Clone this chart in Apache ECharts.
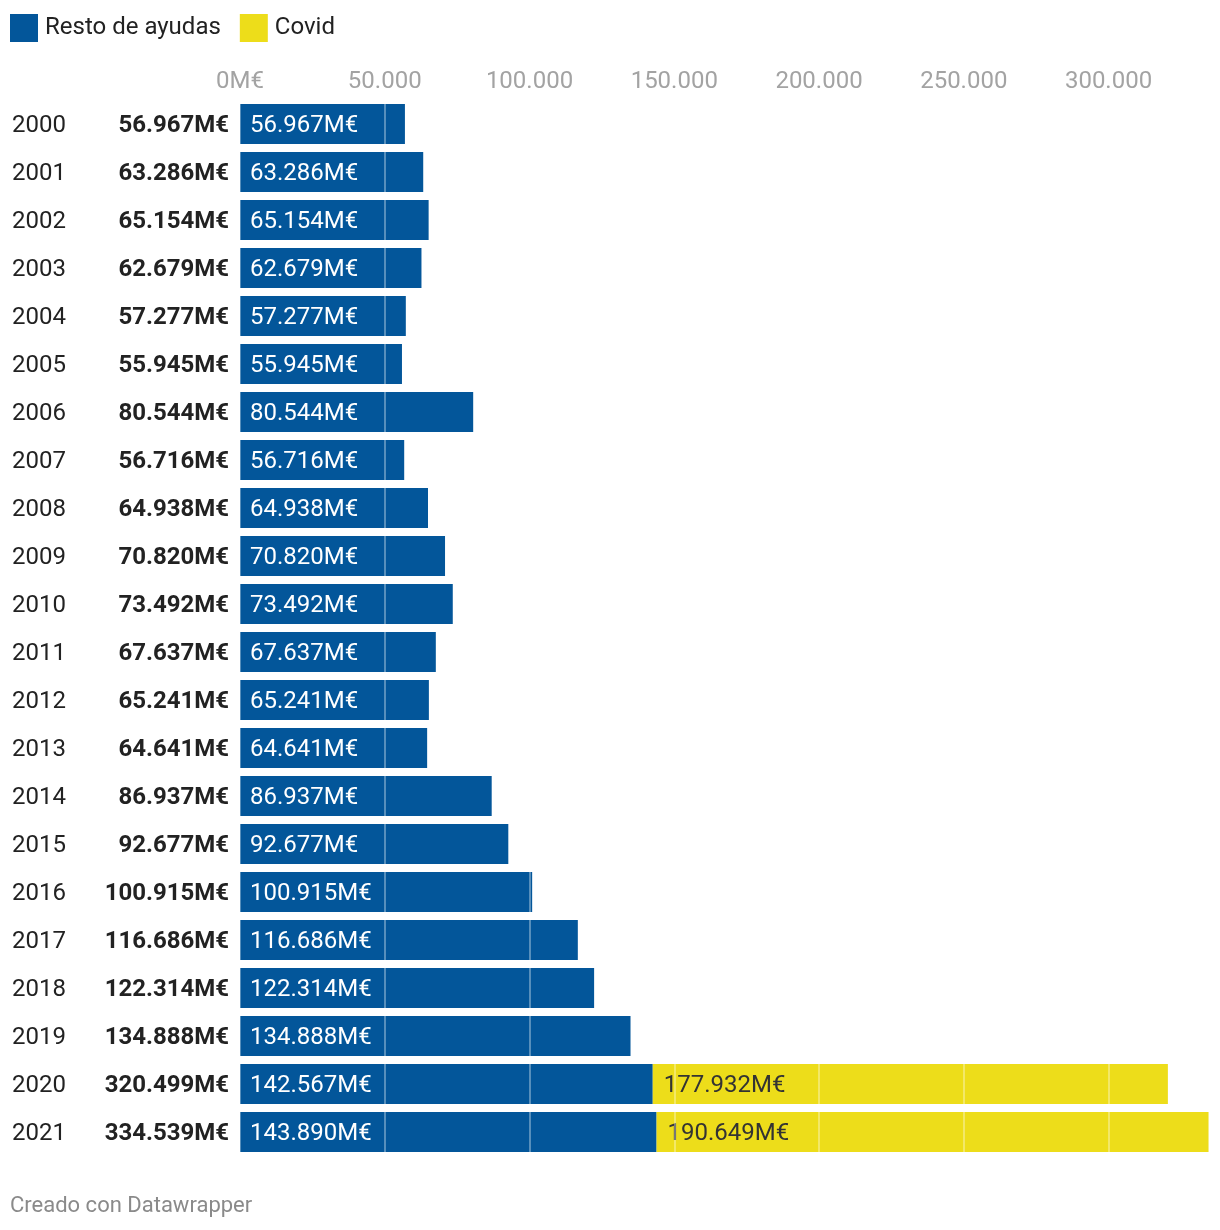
<!DOCTYPE html>
<html>
<head>
<meta charset="utf-8">
<script src="https://cdn.jsdelivr.net/npm/echarts@6/dist/echarts.min.js"></script>
<style>
html,body{margin:0;padding:0;background:#fff;}
#chart{width:1220px;height:1230px;}
</style>
</head>
<body>
<div id="chart"></div>
<script>
const years = ['2000','2001','2002','2003','2004','2005','2006','2007','2008','2009','2010','2011','2012','2013','2014','2015','2016','2017','2018','2019','2020','2021'];
const resto = [56967,63286,65154,62679,57277,55945,80544,56716,64938,70820,73492,67637,65241,64641,86937,92677,100915,116686,122314,134888,142567,143890];
const covid = [null,null,null,null,null,null,null,null,null,null,null,null,null,null,null,null,null,null,null,null,177932,190649];
const axisTicks = [0,50000,100000,150000,200000,250000,300000];

const FONT = 'Roboto, "Noto Sans", sans-serif';
const BLUE = '#03569a';
const YELLOW = '#eddd1a';

function fmt(v){
  return String(Math.round(v)).replace(/\B(?=(\d{3})+(?!\d))/g, '.');
}
const totals = resto.map((r,i)=> r + (covid[i] || 0));

const chart = echarts.init(document.getElementById('chart'));
chart.setOption({
  animation: false,
  textStyle: {fontFamily: FONT},
  legend: {
    left: 5, top: 9, itemWidth: 28, itemHeight: 28, itemGap: 19,
    icon: 'rect',
    textStyle: {fontSize: 24, color: '#222', fontFamily: FONT, padding: [0,0,0,2]},
    data: ['Resto de ayudas','Covid']
  },
  grid: {left: 240, right: 0, top: 100, bottom: 74, containLabel: false},
  xAxis: {
    type: 'value', position: 'top', min: 0, max: 338500, interval: 50000,
    z: 5,
    axisLine: {show: false}, axisTick: {show: false},
    splitLine: {show: true, lineStyle: {color: 'rgba(255,255,255,0.45)', width: 1.5}},
    axisLabel: {
      margin: 6, fontSize: 24, color: '#a3a3a3', fontFamily: FONT,
      showMaxLabel: false,
      formatter: function(v){
        if (axisTicks.indexOf(v) < 0) return '';
        return v === 0 ? '0M€' : fmt(v);
      }
    }
  },
  yAxis: {
    type: 'category', inverse: true, data: years,
    axisLine: {show: false}, axisTick: {show: false},
    axisLabel: {
      align: 'left', margin: 228,
      formatter: function(v, i){
        return '{y|' + v + '}{t|' + fmt(totals[i]) + 'M€}';
      },
      rich: {
        y: {fontSize: 24, color: '#222', width: 90, fontFamily: FONT, padding: [3,0,0,0]},
        t: {fontSize: 24, color: '#222', fontWeight: 'bold', width: 127, align: 'right', fontFamily: FONT, padding: [3,0,0,0]}
      }
    }
  },
  series: [
    {
      name: 'Resto de ayudas', type: 'bar', stack: 'a', data: resto,
      barCategoryGap: '16.7%',
      itemStyle: {color: BLUE},
      label: {
        show: true, position: 'insideLeft', distance: 10, offset: [0, 2],
        color: '#fff', fontSize: 24, fontFamily: FONT,
        formatter: p => fmt(p.value) + 'M€'
      }
    },
    {
      name: 'Covid', type: 'bar', stack: 'a', data: covid,
      barCategoryGap: '16.7%',
      itemStyle: {color: YELLOW},
      label: {
        show: true, position: 'insideLeft', distance: 11, offset: [0, 2],
        color: '#333', fontSize: 24, fontFamily: FONT,
        formatter: p => p.value == null ? '' : fmt(p.value) + 'M€'
      }
    }
  ],
  graphic: [
    {type: 'text', left: 10, top: 1195, style: {text: 'Creado con Datawrapper', fontSize: 22, fill: '#8a8a8a', fontFamily: FONT}}
  ]
});
</script>
</body>
</html>
